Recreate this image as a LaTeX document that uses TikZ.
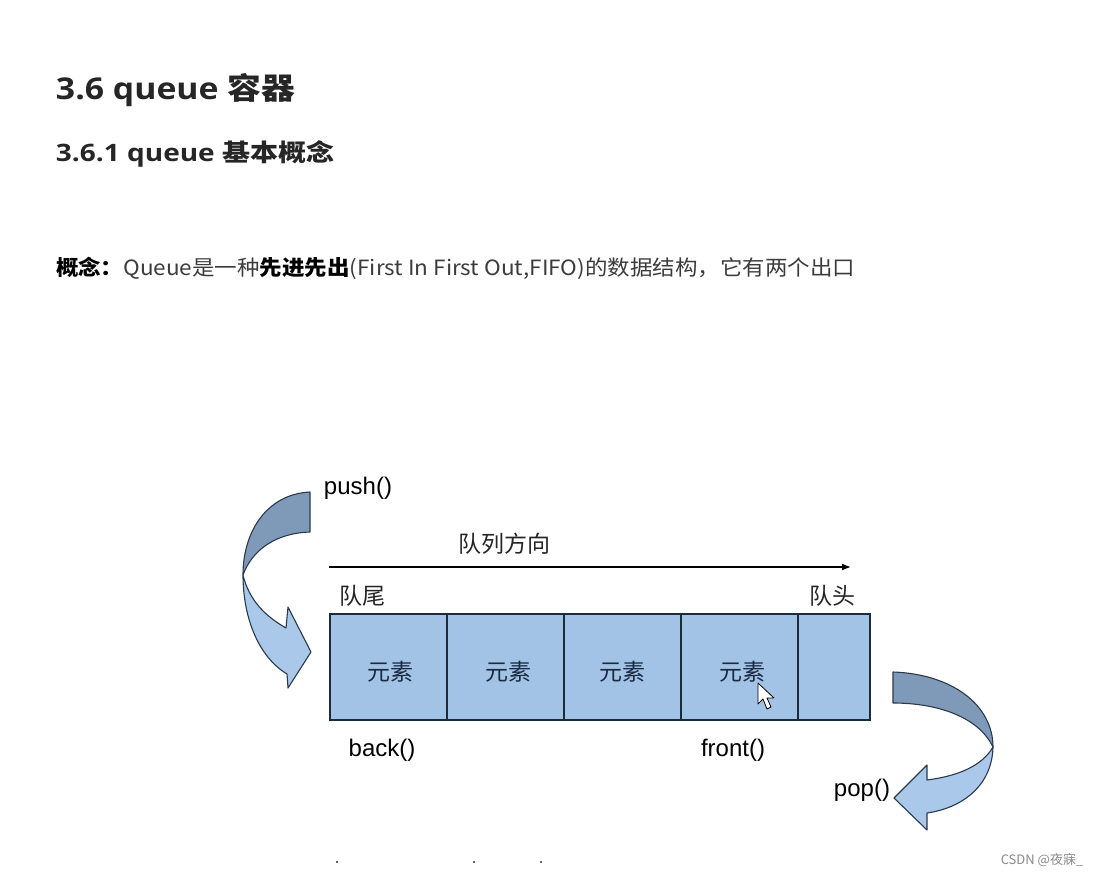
\documentclass[tikz,border=0pt]{standalone}
\usepackage{fontspec}
\usepackage{graphicx}
\usetikzlibrary{arrows.meta}
\setmainfont{Liberation Sans}
\newfontfamily\cjk{Noto Sans CJK SC}
\newfontfamily\osans{Open Sans}
\definecolor{headc}{HTML}{262626}
\definecolor{bodyc}{HTML}{3C3C3C}
\definecolor{cellfill}{HTML}{A3C3E6}
\definecolor{celledge}{HTML}{1C2B3A}
\definecolor{banddark}{HTML}{7F9AB9}
\definecolor{bandlight}{HTML}{A9C8EA}
\definecolor{bandedge}{HTML}{2A3A4A}
\definecolor{elemc}{HTML}{1A2A40}
\definecolor{markc}{HTML}{8A8A8A}
\begin{document}
\begin{tikzpicture}[x=1pt,y=-1pt,
  every node/.style={inner sep=0pt, outer sep=0pt},
  lbl/.style={font=\fontsize{24}{27}\selectfont, text=black},
  cjklbl/.style={font=\fontsize{23}{26}\selectfont\cjk, text=black!85},
  cell/.style={draw=celledge, line width=1.4pt, fill=cellfill, minimum height=106pt},
  elem/.style={font=\fontsize{23}{26}\selectfont\cjk, text=elemc},
  band/.style={draw=bandedge, line width=1.1pt, line join=round}
]
\useasboundingbox[fill=white] (0,0) rectangle (1095,876);

% headings
\node[anchor=west, text=headc] (h1) at (56,90)
  {\resizebox{239pt}{\height}{\fontsize{30}{34}\selectfont\osans\bfseries 3.6 queue {\cjk\bfseries 容器}}};
\node[anchor=west, text=headc] (h2) at (56,154)
  {\resizebox{278pt}{\height}{\fontsize{24}{28}\selectfont\osans\bfseries 3.6.1 queue {\cjk\bfseries 基本概念}}};
\node[anchor=west, text=bodyc] (body) at (56,268)
  {\resizebox{799pt}{\height}{\fontsize{21}{25}\selectfont\cjk{\bfseries\color{black} 概念：}Queue是一种{\bfseries\color{black}先进先出}(First In First Out,FIFO)的数据结构，它有两个出口}};

% direction arrow
\node[cjklbl] (dir) at (504,544) {队列方向};
\coordinate (dirS) at (329,567);
\coordinate (dirE) at (851,567);
\draw[line width=1.3pt, -{Latex[length=9pt,width=7pt]}] (dirS) -- (dirE);
\node[cjklbl] (tail) at (362,596) {队尾};
\node[cjklbl] (head) at (832,596) {队头};

% cells
\node[cell, minimum width=117pt] (c1) at (388.5,667) {};
\node[cell, minimum width=117pt] (c2) at (505.5,667) {};
\node[cell, minimum width=117pt] (c3) at (622.5,667) {};
\node[cell, minimum width=117pt] (c4) at (739.5,667) {};
\node[cell, minimum width=72pt] (c5) at (834,667) {};
\node[elem] (e1) at (390,672) {元素};
\node[elem] (e2) at (508,672) {元素};
\node[elem] (e3) at (622,672) {元素};
\node[elem] (e4) at (742,672) {元素};

% labels
\node[lbl] (push) at (358,488) {push()};
\node[lbl] (back) at (382,750) {back()};
\node[lbl] (front) at (733,750) {front()};
\node[lbl] (pop) at (862,790) {pop()};

% push curved arrow
\path[band, fill=banddark]
  (310,492) .. controls (268,494) and (243,530) .. (243,575)
  .. controls (252,550) and (276,533) .. (310,532) -- cycle;
\path[band, fill=bandlight]
  (243,575) .. controls (243,620) and (260,658) .. (287,674)
  -- (288,688) -- (311,652) -- (288,607) -- (286,628)
  .. controls (265,616) and (249,600) .. (243,575) -- cycle;

% pop curved arrow
\path[band, fill=banddark]
  (893,672) .. controls (952,674) and (993,705) .. (993,747)
  .. controls (978,716) and (936,703) .. (893,703) -- cycle;
\path[band, fill=bandlight]
  (993,747) .. controls (992,786) and (962,808) .. (927,813)
  -- (927,830) -- (894,798) -- (927,765) -- (927,780)
  .. controls (958,776) and (982,766) .. (993,747) -- cycle;

% mouse cursor
\path[draw=black, fill=white, line width=0.8pt, line join=round]
  (758,683) -- (758,704) -- (763,699) -- (767,709) -- (771,707) -- (767,698) -- (774,698) -- cycle;

% stray marks
\fill[color=black!60] (336,861) rectangle (338,863);
\fill[color=black!60] (473,861) rectangle (475,863);
\fill[color=black!60] (540,861) rectangle (542,863);

% watermark
\node[font=\fontsize{13}{15}\selectfont\cjk, text=markc] (wm) at (1042,860) {CSDN @夜寐\_};
\end{tikzpicture}
\end{document}
